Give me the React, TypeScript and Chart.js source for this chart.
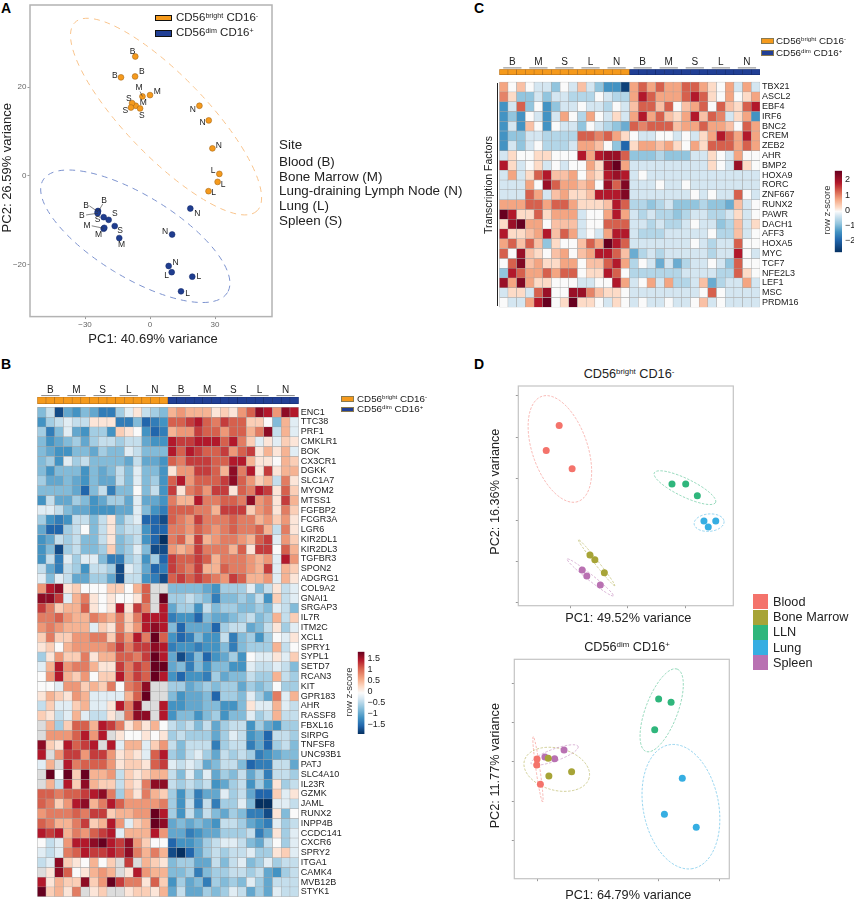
import React, { useEffect, useRef } from "react";
import { Chart, registerables } from "chart.js";

Chart.register(...registerables);

const FONT = '"Liberation Sans", Arial, sans-serif';
const INK = "#222222";
const ORANGE = "#f59a1c";
const NAVY = "#213f95";

/* ---------- Panel B ---------- */
const bGenes = ["ENC1","TTC38","PRF1","CMKLR1","BOK","CX3CR1","DGKK","SLC1A7","MYOM2","MTSS1","FGFBP2","FCGR3A","LGR6","KIR2DL1","KIR2DL3","TGFBR3","SPON2","ADGRG1","COL9A2","GNAI1","SRGAP3","IL7R","ITM2C","XCL1","SPRY1","SYPL1","SETD7","RCAN3","KIT","GPR183","AHR","RASSF8","FBXL16","SIRPG","TNFSF8","UNC93B1","PATJ","SLC4A10","IL23R","GZMK","JAML","RUNX2","INPP4B","CCDC141","CXCR6","SPRY2","ITGA1","CAMK4","MVB12B","STYK1"];
// colour levels, -10 (deepest blue) to 10 (deepest red); null = grey cell
const bLevels: (number | null)[][] = [
[-4,-2,-9,-5,-6,-4,-5,-7,-7,-3,-1,1,-2,-3,-4, 3,4,3,3,3,1,2,1,4,6,9,8,4,9,8],
[-6,-3,-2,-1,-2,-2,1,1,1,-7,-7,-4,-8,-7,-6, 6,6,7,8,6,5,7,6,6,2,2,0,-4,3,-1],
[-3,-7,-4,-1,-5,-6,-3,-3,-6,2,1,0,-6,-8,-7, 3,4,4,7,6,6,4,6,6,3,5,9,-2,3,-1],
[-4,-6,-5,-4,-3,-5,-3,-2,-2,-3,-2,-2,-5,-6,-6, 8,7,7,8,8,8,6,8,5,2,-1,1,-1,2,1],
[-4,-5,-6,-6,-4,-4,-5,-3,-4,-4,-1,-2,-4,-4,-4, 8,6,8,7,6,6,7,4,6,7,1,3,1,3,-1],
[-4,-3,-6,-1,-3,-2,-4,-4,-4,-4,-5,-2,-5,-5,-6, 6,5,7,7,7,6,6,8,8,3,1,1,0,3,2],
[-4,-6,-4,-4,-4,-6,-4,-5,-4,-2,-4,-1,-4,-4,-6, 1,4,4,7,7,6,3,9,5,8,1,7,1,3,3],
[-3,-5,-5,-4,-5,-6,-4,-5,-5,-2,-4,-1,-4,-3,-6, 6,8,4,6,6,6,7,9,6,4,2,3,-2,5,1],
[-4,-4,-4,-4,-5,-8,-4,-2,-7,-4,-4,0,-4,-2,-6, 7,1,5,6,4,7,7,1,6,5,8,7,1,6,2],
[-6,-2,-5,-5,-3,-4,-6,-5,-3,-3,-5,-1,-5,-5,-6, 5,3,3,8,5,5,6,6,5,9,4,5,1,7,3],
[-1,-1,-2,-4,-5,-5,-6,-6,-6,-5,-5,-1,-4,-6,-7, 6,6,6,5,5,3,7,7,7,2,4,5,1,5,2],
[-3,-6,-7,-6,-2,-2,-4,-2,1,-4,-2,-1,-8,-8,-9, 6,5,4,7,5,5,5,6,5,5,3,4,2,4,1],
[-5,-8,-8,-3,-2,0,-4,-2,1,-3,-2,-2,-6,-8,-8, 5,5,4,6,5,4,5,6,5,5,6,3,-2,5,1],
[-6,-5,-2,-3,-2,-4,-4,-2,1,-4,-3,-2,-6,-8,-10, 5,6,3,7,3,4,5,5,4,3,6,7,-1,4,2],
[-6,-4,-9,-3,-2,-4,-4,-3,2,-4,-3,-1,-4,-9,-9, 4,3,4,7,5,5,5,3,6,1,7,7,0,6,3],
[-6,-2,-7,-1,-3,-1,-1,-4,-7,-7,-3,-2,-6,-3,-8, 7,6,6,7,6,3,5,5,5,4,3,4,-1,8,4],
[-2,-5,-7,-2,-3,-6,-2,-2,-3,-9,-1,-2,-5,-8,-7, 7,6,5,7,3,3,6,5,5,4,3,7,-1,3,2],
[-1,-4,-1,-2,-5,-5,-3,-3,-5,-9,-2,-2,-6,-7,-9, 6,7,6,7,6,5,4,7,6,3,3,4,-1,3,1],
[4,8,9,1,2,0,0,0,2,2,0,3,6,null,null, -4,-4,-4,-4,-5,-6,-3,-3,-3,-1,-4,-2,1,-2,-1],
[9,9,7,-1,3,5,1,0,1,0,0,1,6,null,10, -3,-3,-2,-3,-4,-7,-4,-4,-3,-4,-2,-6,2,-2,-1],
[7,5,2,3,3,6,1,0,1,8,1,7,5,null,8, -5,-3,-3,-6,-2,-4,-3,-3,-4,-4,-3,-4,-1,-2,-4],
[5,5,6,4,3,3,5,4,3,5,2,5,8,8,8, -7,-6,-6,-8,-4,-5,-5,-4,-3,-2,-4,-3,3,-2,2],
[4,5,4,3,3,3,-1,2,1,5,2,4,8,9,8, -4,-8,-5,-5,-5,-8,-3,-2,-2,-5,-4,-2,1,-3,-1],
[2,5,2,2,4,4,5,5,2,6,4,8,5,10,6, -6,-8,-7,-4,-6,-6,-2,-7,-4,-3,-6,-3,0,-1,1],
[1,2,0,3,4,4,4,4,5,7,5,7,7,9,8, -7,-6,-6,-7,-6,-6,-4,-7,-4,-3,-3,-3,3,-2,0],
[-3,1,4,2,2,5,1,3,3,6,6,5,7,10,8, -5,-9,-7,-4,-8,-6,-5,-3,-6,0,-1,-1,1,-1,2],
[-1,3,8,4,5,5,3,1,1,7,5,7,6,10,10, -5,-4,-7,-4,-6,-4,-4,-6,-6,-1,-2,-2,-1,-2,-4],
[0,4,8,3,2,4,0,2,2,8,5,7,6,10,8, -6,-8,-6,-6,-7,-3,-5,-4,-4,-2,-3,-3,3,-2,-3],
[0,0,-1,4,4,2,3,2,5,0,5,6,9,null,null, -3,-3,-5,-4,-3,-4,-3,-3,-5,-3,-4,-3,0,-3,-3],
[1,3,2,1,4,3,-1,-1,-1,-1,3,6,10,null,null, -4,-6,-5,-5,-4,-8,-3,-3,-4,-1,-3,-5,5,-1,3],
[-2,2,-1,-1,2,3,-1,-1,1,8,5,9,null,null,8, -6,-6,-5,-5,-4,-4,-6,-6,-4,1,-1,-1,3,-1,-2],
[2,1,-2,-1,3,-1,-2,-2,1,null,5,9,9,null,8, -6,-4,-4,-6,-4,-3,-6,-4,-4,-1,-3,-2,3,-2,-2],
[null,3,-3,2,6,6,3,8,7,5,1,3,1,3,0, -2,-3,-2,-4,-2,-5,-3,-2,-2,-6,-3,-5,-6,-3,-3],
[null,4,4,4,6,8,4,8,null,1,0,0,1,0,1, -3,-2,-3,-3,-3,-5,-3,-1,-2,-6,-5,-8,-2,-2,-3],
[9,2,1,8,6,7,8,null,8,-1,3,3,-1,2,4, -2,-4,-2,-2,-2,-7,-3,-2,-2,-7,-5,-8,-3,-2,-4],
[8,null,4,7,7,4,7,7,4,1,2,1,-1,6,8, -3,-4,-2,-1,-3,-5,-2,-3,-2,-3,-7,-6,-5,-4,-4],
[-1,3,null,8,5,6,6,6,4,1,2,2,1,6,7, -1,-2,-1,-2,-5,-4,-2,-2,-4,-8,-7,-7,-2,-2,-5],
[null,10,0,10,2,10,3,3,4,-2,2,1,2,3,3, -2,-4,-1,-4,-1,-5,-3,-4,-2,-5,-3,-7,-2,-2,-3],
[null,3,-2,8,2,9,3,2,2,-2,2,1,5,9,9, -2,-3,-2,-3,-2,-6,-5,-3,-2,-6,-3,-6,1,-3,-2],
[6,6,5,6,6,7,8,9,5,-3,3,1,5,3,2, -3,-6,-3,-7,-5,-5,-1,-3,-2,-5,-8,-8,2,-1,1],
[6,5,2,4,8,9,3,5,8,6,4,4,4,4,5, -3,-6,-2,-7,-2,-7,-3,-3,-1,-4,-10,-10,-1,-1,-2],
[4,5,5,5,6,5,7,7,2,3,3,4,4,10,8, -3,-6,-2,-5,-2,-4,-5,-3,-4,-7,-7,-9,1,-4,0],
[6,5,3,3,5,7,2,3,8,4,-1,2,3,10,9, -5,-4,-5,-4,-5,-6,-2,-2,-3,-5,-6,-7,-1,-3,-2],
[8,7,8,3,5,4,6,7,8,-1,3,3,3,8,4, -5,-5,-7,-6,-5,-5,-3,-3,-3,-2,-7,-5,1,-3,-1],
[0,-2,-1,4,8,8,9,10,8,7,9,4,2,0,0, -8,-6,-6,-5,-3,-2,-1,-1,-2,-4,-5,-2,0,-3,-1],
[-1,-2,-1,5,6,8,7,7,8,7,9,5,3,5,3, -9,-10,-8,-5,-3,-2,-3,-2,-2,-1,-3,-3,1,2,-1],
[-2,-1,9,2,1,0,3,0,2,null,7,null,3,2,1, -4,-3,-3,-5,-5,-2,-4,-2,-1,-4,-3,-1,-3,-2,-2],
[null,1,9,6,0,1,3,4,3,null,1,8,4,3,3, -4,-4,-3,-7,-4,-3,-3,-2,-2,-3,-2,-5,-6,-3,-2],
[8,1,3,2,2,9,2,4,10,7,5,5,1,6,2, -6,-3,-5,-4,-7,-3,-4,-3,-4,-1,-3,-5,-2,-2,-2],
[10,2,3,1,5,null,1,2,null,null,1,2,2,1,3, -5,-2,-5,-5,-3,-4,-3,-1,-2,-5,-3,-5,-1,-2,-2],
];

/* ---------- Panel C ---------- */
const cGenes = ["TBX21","ASCL2","EBF4","IRF6","BNC2","CREM","ZEB2","AHR","BMP2","HOXA9","RORC","ZNF667","RUNX2","PAWR","DACH1","AFF3","HOXA5","MYC","TCF7","NFE2L3","LEF1","MSC","PRDM16"];
const cLevels: (number | null)[][] = [
[3,0,2,0,-1,-1,-3,0,-1,2,-1,-3,-5,-5,-9, 3,5,3,5,3,3,5,5,3,1,0,3,-1,3,-1],
[4,1,-3,-3,-1,-3,-1,-1,-2,-2,-2,0,-1,-2,-2, 3,7,5,3,3,3,5,7,5,1,0,3,0,1,3],
[-5,-1,5,-3,0,-5,-3,-1,-1,0,-1,-1,-2,0,-1, 2,5,5,2,5,0,2,3,5,0,5,2,1,5,7],
[-5,-3,-5,0,-1,-5,-1,3,0,-2,3,0,-1,1,-1, 3,7,3,5,2,1,3,7,2,5,4,-1,1,3,-5],
[-5,-1,-5,2,0,-5,0,-1,-1,-3,0,-1,-2,-3,-4, 5,4,5,5,5,2,3,3,5,3,3,2,0,5,3],
[-5,-3,-3,-1,-1,-2,-2,-2,-2,5,5,4,5,3,1, 0,-1,-1,0,0,-1,0,-1,1,3,7,5,3,7,3],
[-5,-1,-3,-1,0,-2,-2,-2,-1,3,3,2,0,-3,-7, 1,3,3,2,3,1,0,3,1,5,5,5,3,5,3],
[-1,1,0,0,1,1,0,0,0,7,3,7,8,8,5, -3,-3,-3,-2,-3,-3,-3,-1,-1,1,0,-1,3,0,0],
[7,1,-1,0,1,-1,0,-1,0,0,3,1,8,10,3, -1,-1,-1,-1,-1,-1,-1,-1,-1,1,0,-1,8,1,0],
[-1,3,-1,1,5,7,2,2,3,0,2,1,7,8,7, -1,0,-1,-1,-1,-1,-1,-1,-1,-1,-1,-1,-1,-1,-1],
[-1,-1,-1,3,0,8,5,3,3,2,3,0,8,5,9, -1,-1,-1,0,-1,-1,0,-1,-1,-1,-1,-1,-1,-1,-1],
[-1,-1,-1,5,3,-1,2,3,1,1,2,7,7,7,9, -1,-1,-1,-1,-1,-1,-1,0,-1,0,-1,-1,5,0,-1],
[3,3,3,5,5,3,5,5,3,1,1,1,2,7,5, -2,-2,-3,-2,-1,-3,-3,-3,-2,-3,-3,-4,2,-1,0],
[10,7,1,1,5,1,3,3,3,-1,0,0,3,7,3, -1,-2,-1,-2,-2,-3,-2,-1,-1,-2,-2,-1,1,-1,0],
[1,8,10,3,3,0,2,2,2,-1,0,0,5,5,5, -1,-1,-2,-1,-2,-2,-1,0,-1,-1,-3,-2,2,-1,1],
[7,1,1,2,3,7,2,5,3,-1,0,-1,3,7,7, -1,-2,-2,-2,-1,-1,-1,-1,-1,0,-2,-2,2,-1,0],
[3,5,2,5,2,-3,1,0,0,2,5,3,10,7,5, -1,-1,-1,-1,-1,-1,-1,0,-1,-2,-1,-1,5,0,0],
[5,0,8,2,1,0,2,3,0,2,3,7,7,5,2, -4,-2,-1,-2,-1,-1,-1,-1,-1,-2,-1,-1,7,0,-1],
[0,5,9,2,3,1,1,3,3,0,2,2,5,7,3, -2,0,-1,-4,-1,-4,-2,-1,-1,0,-1,-3,5,0,0],
[-3,7,5,3,3,5,3,5,5,0,1,1,7,5,0, -2,-2,-2,-2,-2,-2,-1,-1,-1,-1,-2,-2,5,1,0],
[8,3,9,3,1,1,0,0,0,-1,-1,0,0,7,3, -1,0,3,-1,3,-2,-2,-1,2,-4,-2,-1,-1,3,-1],
[-1,1,1,-1,5,8,0,0,8,8,4,2,1,1,0, -1,-1,-1,-1,-1,-1,-1,-1,0,5,0,-1,-1,-1,-1],
[0,-1,-1,3,7,10,0,1,10,1,1,0,-1,1,0, -1,0,-1,-1,0,-1,-1,0,2,-1,0,-1,-1,-1,-1],
];

const sampleGroups = ["B","M","S","L","N","B","M","S","L","N"];
const bTicks = [1.5, 1, 0.5, 0, -0.5, -1, -1.5];
const cTicks = [2, 1, 0, -1, -2];

/* ---------- Panel A ---------- */
const aBrightX = [-6.8,-13.4,-6.9,-3.5,0,-6.6,-8.3,-8.8,-4.6,22.8,27.1,28.8,32,31.2,27];
const aBrightY = [26.9,22.2,22.4,17.9,18.2,15.8,16.4,15.4,15.2,15.8,12.5,6.2,0.45,-1.35,-3.45];
const aDimX = [-24,-24.1,-24.2,-21.4,-19.1,-16.3,-21.4,-21.1,-14.2,18.6,10.2,8.6,10,19.5,14.3];
const aDimY = [-7.9,-8.1,-8.4,-9.3,-9.9,-11.3,-11.9,-11.7,-14,-7.35,-13.2,-20.3,-21.7,-22.7,-26];
const aLabelText = ["B","B","B","M","M","M","S","S","S","N","N","N","L","L","L","B","B","B","S","S","S","M","M","M","N","N","N","L","L","L"];
const aLabelX = [-8,-16.2,-3.8,-5.1,3.4,-3.1,-9.8,-11.4,-3.8,19.8,24.2,31.7,29.1,33.7,29.4,-21.2,-29.5,-31.5,-16.2,-24.2,-13.8,-29.1,-23.8,-13.1,21.8,6.9,11.8,7.7,22.5,17.4];
const aLabelY = [28.1,22.5,23.4,19.8,19.05,16.4,17.5,14.6,13.65,14.9,12,6.8,1.2,-1.9,-3.8,-5.55,-6.7,-8.85,-8.4,-9.9,-12.45,-11.2,-13.3,-15.4,-8.4,-12.6,-19.6,-22.4,-22.8,-26.6];
const aLeaders = [[-28,-6.75,-24,-8.1],[-29.5,-8.8,-24,-8.4],[-21.8,-6.3,-23.7,-7.9],[-26.9,-11.25,-21.4,-11.8],[-4.6,19,-3.5,17.9]];
const siteLines = ["Blood (B)","Bone Marrow (M)","Lung-draining Lymph Node (N)","Lung (L)","Spleen (S)"];

/* ---------- Panel D ---------- */
const dSites = ["Blood","Bone Marrow","LLN","Lung","Spleen"];
const dColors = ["#f4736b","#a7a437","#2fb67c","#36aee2","#b971b2"];
const dBrightX = [[-23.9,-28.4,-19.4],[-13.2,-11.5,-8.2],[15.3,20.06,24.1],[26.4,30.5,27.9],[-15.9,-14.3,-9.6]];
const dBrightY = [[6.41,3.39,1.21],[-9.23,-9.8,-11.37],[-0.65,-0.65,-2.06],[-5.12,-5.12,-5.85],[-11.05,-11.77,-12.86]];
const dDimX = [[-20.2,-20.3,-19.1],[-16.5,-16.3,-8.8],[19.9,24,18.6],[27.7,21.8,32.3],[-17.6,-14.4,-11.3]];
const dDimY = [[0.76,-0.76,-5.68],[0.93,-3.56,-2.46],[16,15.2,8.2],[-4.15,-13.3,-16.6],[1.27,0.85,3.05]];

type Ell = { cx: number; cy: number; a: number; b: number; rot: number; color: string; dash: number[] };

// rotated axis caption, given in page pixels, drawn on the chart's own canvas
const sideTitle = (text: string, px: number, py: number, size: number, color = INK) => ({
  id: "sideTitle",
  afterDraw(chart: any) {
    const c = chart.ctx;
    c.save();
    c.translate(px - chart.canvas.offsetLeft, py - chart.canvas.offsetTop);
    c.rotate(-Math.PI / 2);
    c.fillStyle = color;
    c.font = `${size}px ${FONT}`;
    c.textAlign = "center";
    c.textBaseline = "middle";
    c.fillText(text, 0, 0);
    c.restore();
  },
});

const pcaFrame = (color: string, lw: number) => ({
  id: "frame",
  afterDraw(chart: any) {
    const { left, top, width, height } = chart.chartArea;
    const c = chart.ctx;
    c.save();
    c.strokeStyle = color;
    c.lineWidth = lw;
    c.strokeRect(left, top, width, height);
    c.restore();
  },
});

const ellipses = (list: Ell[]) => ({
  id: "ellipses",
  beforeDatasetsDraw(chart: any) {
    const c = chart.ctx;
    const { x, y } = chart.scales;
    list.forEach((e) => {
      c.save();
      c.strokeStyle = e.color;
      c.lineWidth = 1;
      c.setLineDash(e.dash);
      c.beginPath();
      c.ellipse(x.getPixelForValue(e.cx), y.getPixelForValue(e.cy), e.a, e.b, (e.rot * Math.PI) / 180, 0, Math.PI * 2);
      c.stroke();
      c.restore();
    });
  },
});

type Stop = [number, string, string];
const cStops: Stop[] = [
  [0, "#fafafa", "#fafafa"],
  [1, "#fddbc7", "#d4e6f1"],
  [3, "#f4a582", "#92c5de"],
  [5, "#d6604d", "#4393c3"],
  [7, "#b2182b", "#2166ac"],
  [10, "#67001f", "#053061"],
];
const bStops: Stop[] = [
  [0, "#fafafa", "#fafafa"],
  [1.5, "#fddbc7", "#d4e6f1"],
  [3.5, "#f4a582", "#92c5de"],
  [6, "#d6604d", "#4393c3"],
  [8, "#b2182b", "#2166ac"],
  [10, "#67001f", "#053061"],
];
const hex = (h: string) => [1, 3, 5].map((i) => parseInt(h.slice(i, i + 2), 16));
function levelColor(level: number | null | undefined, stops: Stop[]): string {
  if (level === null || level === undefined) return "#dcdcdc";
  const abs = Math.min(10, Math.abs(level));
  const side = level >= 0 ? 1 : 2;
  for (let i = 1; i < stops.length; i++) {
    const lo = stops[i - 1];
    const hi = stops[i];
    if (abs <= hi[0]) {
      const t = (abs - lo[0]) / (hi[0] - lo[0]);
      const a = hex(lo[side] as string);
      const b = hex(hi[side] as string);
      return `rgb(${a.map((v, k) => Math.round(v + (b[k] - v) * t)).join(",")})`;
    }
  }
  return "#000000";
}

const noMargins = (s: any) => {
  s.paddingTop = 0;
  s.paddingBottom = 0;
  s.paddingLeft = 0;
  s.paddingRight = 0;
};

function heatmapConfig(genes: string[], levels: (number | null)[][], stops: Stop[], stripFrom: number, stripTo: number, pad: any, axisWidth: number, extra: any[] = []) {
  const cols = levels[0].map((_, i) => String(i + 1));
  const stripColors = cols.map((_, i) => (i < 15 ? ORANGE : NAVY));
  const groupPlugin = {
    id: "groups",
    afterDatasetsDraw(chart: any) {
      const c = chart.ctx;
      const x = chart.scales.x;
      const top = chart.chartArea.top;
      const colW = chart.chartArea.width / cols.length;
      c.save();
      c.font = `10px ${FONT}`;
      c.textAlign = "center";
      c.textBaseline = "middle";
      sampleGroups.forEach((g, i) => {
        const cx = x.getPixelForValue(i * 3 + 1);
        c.fillStyle = INK;
        c.fillText(g, cx, top - 6.8);
        c.strokeStyle = "#666666";
        c.lineWidth = 0.8;
        c.beginPath();
        c.moveTo(cx - colW * 1.05, top - 1.4);
        c.lineTo(cx + colW * 1.05, top - 1.4);
        c.stroke();
      });
      c.restore();
    },
  };
  return {
    type: "bar",
    data: {
      labels: cols,
      datasets: [
        {
          data: cols.map(() => [stripFrom, stripTo]),
          backgroundColor: stripColors,
          borderColor: cols.map((_, i) => (i < 15 ? "#a8681a" : "#152a68")),
          borderWidth: 0.6,
          borderSkipped: false,
          barPercentage: 1,
          categoryPercentage: 1,
        },
        ...levels.map((row, r) => ({
          data: cols.map(() => [r, r + 1]),
          backgroundColor: cols.map((_, i) => levelColor(row[i], stops)),
          borderColor: "#a3a3a3",
          borderWidth: 0.5,
          borderSkipped: false,
          barPercentage: 1,
          categoryPercentage: 1,
        })),
      ],
    },
    options: {
      responsive: false,
      animation: false,
      devicePixelRatio: 1,
      layout: { padding: pad },
      plugins: { legend: { display: false }, tooltip: { enabled: false } },
      scales: {
        x: { display: false, stacked: true },
        y: {
          type: "linear",
          stacked: false,
          reverse: true,
          position: "right",
          min: stripFrom,
          max: genes.length,
          grid: { display: false, drawTicks: false },
          border: { display: false },
          afterBuildTicks(s: any) { s.ticks = genes.map((_, i) => ({ value: i + 0.5 })); },
          afterFit(s: any) { s.width = axisWidth; noMargins(s); },
          ticks: {
            autoSkip: false,
            padding: 2,
            color: INK,
            font: { family: FONT, size: 9 },
            callback: (_v: any, i: number) => genes[i],
          },
        },
      },
    },
    plugins: [groupPlugin, ...extra],
  };
}

function colorbarConfig(ticks: number[], lo: number, hi: number, stops: Stop[], pad: any, axisWidth: number, extra: any[] = []) {
  return {
    type: "bar",
    data: {
      labels: ["z"],
      datasets: [{
        data: [[lo, hi]],
        barPercentage: 1,
        categoryPercentage: 1,
        backgroundColor: (ctx: any) => {
          const area = ctx.chart.chartArea;
          if (!area) return "#ffffff";
          const g = ctx.chart.ctx.createLinearGradient(0, area.bottom, 0, area.top);
          const steps = [-10,-8,-7,-6,-5,-3.5,-3,-1.5,-1,0,1,1.5,3,3.5,5,6,7,8,10];
          steps.forEach((s) => g.addColorStop((s + 10) / 20, levelColor(s, stops)));
          return g;
        },
      }],
    },
    options: {
      responsive: false,
      animation: false,
      devicePixelRatio: 1,
      layout: { padding: pad },
      plugins: { legend: { display: false }, tooltip: { enabled: false } },
      scales: {
        x: { display: false },
        y: {
          position: "right",
          min: lo,
          max: hi,
          grid: { display: false, drawTicks: false },
          border: { display: false },
          afterBuildTicks(s: any) { s.ticks = ticks.map((v) => ({ value: v })); },
          afterFit(s: any) { s.width = axisWidth; noMargins(s); },
          ticks: {
            autoSkip: false,
            padding: 3,
            color: INK,
            font: { family: FONT, size: 9 },
            callback: (v: number) => String(v).replace("-", "\u2212"),
          },
        },
      },
    },
    plugins: extra,
  };
}

const pcaAxis = (min: number, max: number, step: number, size: number, showLabels: boolean) => ({
  min,
  max,
  grid: { drawOnChartArea: false, tickLength: 2.5, color: "#999999" },
  border: { display: false },
  afterFit(s: any) { if (s.isHorizontal()) s.height = size; else s.width = size; noMargins(s); },
  ticks: {
    stepSize: step,
    includeBounds: false,
    maxRotation: 0,
    padding: 1,
    color: "#666666",
    font: { family: FONT, size: 8 },
    callback: (v: number) => (showLabels ? String(v).replace("-", "\u2212") : ""),
  },
});

function panelAConfig() {
  const zip = (xs: number[], ys: number[]) => xs.map((x, i) => ({ x, y: ys[i] }));
  const labels = {
    id: "sampleLabels",
    afterDatasetsDraw(chart: any) {
      const c = chart.ctx;
      const { x, y } = chart.scales;
      c.save();
      c.strokeStyle = "#333333";
      c.lineWidth = 0.6;
      aLeaders.forEach((l) => {
        c.beginPath();
        c.moveTo(x.getPixelForValue(l[0]), y.getPixelForValue(l[1]));
        c.lineTo(x.getPixelForValue(l[2]), y.getPixelForValue(l[3]));
        c.stroke();
      });
      c.fillStyle = INK;
      c.font = `8.5px ${FONT}`;
      c.textAlign = "center";
      c.textBaseline = "middle";
      aLabelText.forEach((t, i) => c.fillText(t, x.getPixelForValue(aLabelX[i]), y.getPixelForValue(aLabelY[i])));
      c.restore();
    },
  };
  const ells: Ell[] = [
    { cx: 7.4, cy: 13.36, a: 131, b: 40.5, rot: 46, color: "#f9c48c", dash: [6, 5] },
    { cx: -6.8, cy: -13.6, a: 108, b: 41, rot: 31.4, color: "#7d93cf", dash: [6, 5] },
  ];
  return {
    type: "scatter",
    data: {
      datasets: [
        { data: zip(aBrightX, aBrightY), backgroundColor: ORANGE, borderColor: "#a86a1c", borderWidth: 0.6, pointRadius: 2.9 },
        { data: zip(aDimX, aDimY), backgroundColor: "#1f3d8f", borderColor: "#1a2f70", borderWidth: 0.6, pointRadius: 2.9 },
      ],
    },
    options: {
      responsive: false,
      animation: false,
      devicePixelRatio: 1,
      layout: { padding: { top: 5, right: 8, left: 0, bottom: 0 } },
      plugins: { legend: { display: false }, tooltip: { enabled: false } },
      scales: {
        x: pcaAxis(-55.4, 56.3, 30, 31.4, true),
        y: pcaAxis(-31.7, 38.5, 20, 30, true),
      },
    },
    plugins: [ellipses(ells), labels, pcaFrame("#b3b3b3", 1.5), sideTitle("PC2: 26.59% variance", 7.5, 167.7, 13)],
  };
}

function panelDConfig(xs: number[][], ys: number[][], xr: number[], yr: number[], ells: Ell[], yAxisW: number, xAxisH: number, pad: any, title: any) {
  return {
    type: "scatter",
    data: {
      datasets: dSites.map((s, i) => ({
        label: s,
        data: xs[i].map((x, k) => ({ x, y: ys[i][k] })),
        backgroundColor: dColors[i],
        borderWidth: 0,
        pointRadius: 3.5,
      })),
    },
    options: {
      responsive: false,
      animation: false,
      devicePixelRatio: 1,
      layout: { padding: pad },
      plugins: { legend: { display: false }, tooltip: { enabled: false } },
      scales: {
        x: pcaAxis(xr[0], xr[1], xr[2], xAxisH, false),
        y: pcaAxis(yr[0], yr[1], yr[2], yAxisW, false),
      },
    },
    plugins: [ellipses(ells), pcaFrame("#c4c4c4", 1.2), title],
  };
}

const tint = (hexColor: string) => hexColor + "80";
const fine = [2.5, 1.5];

const dBrightEll: Ell[] = [
  { cx: -23.65, cy: 3.59, a: 55.6, b: 27.6, rot: 71, color: tint(dColors[0]), dash: fine },
  { cx: -10.9, cy: -10.16, a: 29.3, b: 2, rot: 51.7, color: tint(dColors[1]), dash: fine },
  { cx: 19.8, cy: -1.09, a: 34, b: 9, rot: 25.8, color: tint(dColors[2]), dash: fine },
  { cx: 28.2, cy: -5.32, a: 15, b: 8.7, rot: -5, color: tint(dColors[3]), dash: fine },
  { cx: -13.1, cy: -11.94, a: 29.5, b: 3, rot: 38.6, color: tint(dColors[4]), dash: fine },
];
const dDimEll: Ell[] = [
  { cx: -19.9, cy: -1.86, a: 33, b: 2, rot: 81.8, color: tint(dColors[0]), dash: fine },
  { cx: -13.7, cy: -1.86, a: 33.5, b: 21, rot: 15, color: tint(dColors[1]), dash: fine },
  { cx: 20.9, cy: 13.14, a: 44, b: 16, rot: -69.2, color: tint(dColors[2]), dash: fine },
  { cx: 27.25, cy: -11.36, a: 63, b: 37.7, rot: 79, color: tint(dColors[3]), dash: fine },
  { cx: -14.4, cy: 1.78, a: 25, b: 6, rot: -20, color: tint(dColors[4]), dash: fine },
];

function ChartBox({ left, top, width, height, config }: { left: number; top: number; width: number; height: number; config: () => any }) {
  const ref = useRef<HTMLCanvasElement>(null);
  useEffect(() => {
    const chart = new Chart(ref.current as HTMLCanvasElement, config());
    return () => chart.destroy();
  }, []);
  return <canvas ref={ref} width={width} height={height} style={{ position: "absolute", left, top, width, height, display: "block" }} />;
}

function T({ x, y, size, children, bold, center, color }: any) {
  const tf = center ? "translate(-50%,-50%)" : "translateY(-50%)";
  return (
    <div style={{ position: "absolute", left: x, top: y, fontSize: size, fontFamily: FONT, color: color || (bold ? "#000" : INK), fontWeight: bold ? 700 : 400, whiteSpace: "nowrap", transform: tf, lineHeight: 1 }}>
      {children}
    </div>
  );
}

const Sup = ({ children }: any) => <sup style={{ fontSize: "0.62em", lineHeight: 0, verticalAlign: "0.45em" }}>{children}</sup>;
const Bright = () => <>CD56<Sup>bright</Sup> CD16<Sup>-</Sup></>;
const Dim = () => <>CD56<Sup>dim</Sup> CD16<Sup>+</Sup></>;

function Swatch({ x, y, w, h, color, border }: any) {
  return <div style={{ position: "absolute", left: x, top: y, width: w, height: h, background: color, border: border ? `1px solid ${border}` : "none", boxSizing: "border-box" }} />;
}

function CellLegend({ x, y1, y2, tx, size, h, w, border }: any) {
  return (
    <>
      <Swatch x={x} y={y1} w={w} h={h} color={ORANGE} border={border} />
      <Swatch x={x} y={y2} w={w} h={h} color={NAVY} border={border} />
      <T x={tx} y={y1 + h / 2} size={size}><Bright /></T>
      <T x={tx} y={y2 + h / 2} size={size}><Dim /></T>
    </>
  );
}

export default function App() {
  return (
    <div style={{ position: "absolute", left: 0, top: 0, width: 854, height: 900, background: "#fff", overflow: "hidden" }}>
      <T x={1} y={8} size={14} bold>A</T>
      <T x={1} y={364} size={14} bold>B</T>
      <T x={474} y={8} size={14} bold>C</T>
      <T x={474} y={364} size={14} bold>D</T>

      {/* Panel A */}
      <ChartBox left={0} top={0} width={280} height={348} config={panelAConfig} />
      <CellLegend x={155} y1={14.5} y2={30} tx={176} size={11.5} w={17} h={6.5} border="#111" />
      <T x={153} y={337.7} size={13} center>PC1: 40.69% variance</T>
      <T x={279} y={144.7} size={13.4}>Site</T>
      {siteLines.map((s, i) => <T key={s} x={279} y={162 + i * 14.7} size={13.4}>{s}</T>)}

      {/* Panel B */}
      <ChartBox left={30} top={380} width={330} height={520}
        config={() => heatmapConfig(bGenes, bLevels, bStops, -1.05, -0.37, { left: 7.3, top: 17, right: 0, bottom: 3.3 }, 61.3)} />
      <CellLegend x={341} y1={396} y2={406.5} tx={357} size={9.8} w={13} h={5.5} border="#8a7a50" />
      <ChartBox left={340} top={645} width={70} height={96}
        config={() => colorbarConfig(bTicks, -1.91, 1.83, bStops, { left: 17.7, top: 6.7, bottom: 7, right: 0 }, 45.5, [sideTitle("row z-score", 349, 692, 9.5, "#333333")])} />

      {/* Panel C */}
      <ChartBox left={480} top={50} width={335} height={260}
        config={() => heatmapConfig(cGenes, cLevels, cStops, -1.3, -0.75, { left: 19.3, top: 19.3, right: 0, bottom: 2.7 }, 55, [sideTitle("Transcription Factors", 489, 185, 10.5)])} />
      <CellLegend x={760.7} y1={38.3} y2={50} tx={776} size={9.8} w={13} h={5.5} border="#8a7a50" />
      <ChartBox left={815} top={164} width={39} height={95}
        config={() => colorbarConfig(cTicks, -2.76, 2.6, cStops, { left: 19.7, top: 6.7, bottom: 6.7, right: 0 }, 12, [sideTitle("row z-score", 827, 210, 9.5, "#333333")])} />
      <div style={{ position: "absolute", left: 496.5, top: 83, width: 1, height: 223, background: "#222" }} />

      {/* Panel D */}
      <T x={629} y={374} size={12.7} center><Bright /></T>
      <ChartBox left={485} top={376} width={260} height={252}
        config={() => panelDConfig(dBrightX, dBrightY, [-38.1, 36.6, 20], [-15.36, 11.2, 5], dBrightEll, 33.3, 22.3, { top: 10, right: 11.7, left: 0, bottom: 0 }, sideTitle("PC2: 16.36% variance", 495, 491.7, 12.7))} />
      <T x={628.3} y={618.3} size={12.7} center>PC1: 49.52% variance</T>
      {dSites.map((s, i) => (
        <React.Fragment key={s}>
          <Swatch x={752.7} y={594.3 + i * 15.2} w={15.3} h={15.2} color={dColors[i]} />
          <T x={773} y={602 + i * 15.2} size={12.7}>{s}</T>
        </React.Fragment>
      ))}
      <T x={627} y={647} size={12.7} center><Dim /></T>
      <ChartBox left={485} top={650} width={260} height={250}
        config={() => panelDConfig(dDimX, dDimY, [-27.7, 43.2, 20], [-29.66, 26.1, 10], dDimEll, 29.3, 21.3, { top: 9.3, right: 15.7, left: 0, bottom: 0 }, sideTitle("PC2: 11.77% variance", 495, 765.7, 12.7))} />
      <T x={628.3} y={895} size={12.7} center>PC1: 64.79% variance</T>
    </div>
  );
}
